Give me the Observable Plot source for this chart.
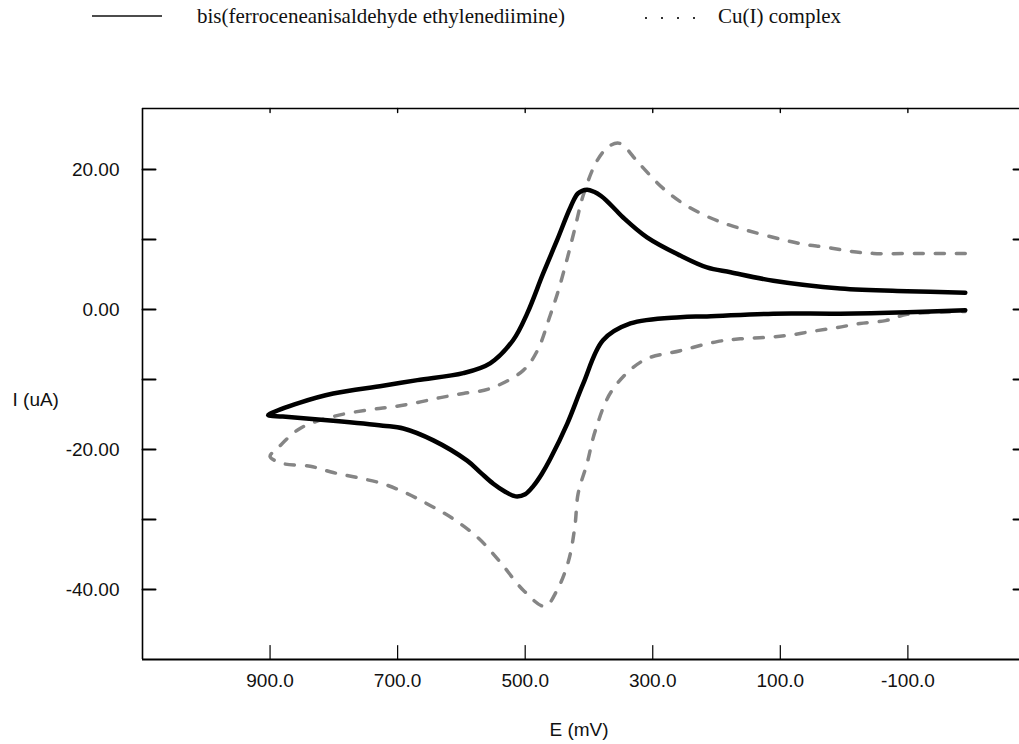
<!DOCTYPE html>
<html>
<head>
<meta charset="utf-8">
<script src="https://cdn.jsdelivr.net/npm/d3@7"></script>
<script src="https://cdn.jsdelivr.net/npm/@observablehq/plot@0.6"></script>
<style>
  body { margin: 0; background: #fff; }
  #legend { position: relative; width: 1019px; height: 40px; font-family: "Liberation Serif", "Times New Roman", serif; font-size: 21px; color: #111; }
  #legend .item { position: absolute; top: 4px; white-space: nowrap; }
  #legend svg { position: absolute; }
  #chart svg { display: block; }
</style>
</head>
<body>
<div id="legend"></div>
<div id="chart"></div>
<script>
// ---- Data (E in mV, I in uA), traced around each voltammogram loop ----
const seriesNames = ["bis(ferroceneanisaldehyde ethylenediimine)", "Cu(I) complex"];

const ligandE = [-190, -99, 6, 111, 178, 215, 257, 309, 346, 358, 371, 381, 392, 403, 417, 429, 450, 472, 497, 519,
  555, 597, 669, 723, 801, 853, 900, 903,
  880, 801, 723, 691, 644, 591, 570, 550, 532, 515, 500, 487, 474, 461, 434, 409, 378, 335, 257, 215, 111, 6, -99, -190];
const ligandI = [2.4, 2.6, 3.0, 4.1, 5.3, 6.0, 7.7, 10.3, 13.1, 14.2, 15.4, 16.2, 16.8, 17.1, 16.6, 14.6, 9.9, 5.1, -0.6, -4.4,
  -7.7, -9.1, -10.1, -10.9, -12.0, -13.3, -14.9, -15.1,
  -15.3, -15.9, -16.6, -17.0, -18.7, -21.6, -23.3, -24.9, -26.0, -26.7, -26.4, -25.2, -23.5, -21.4, -16.3, -10.6, -4.4, -2.0, -1.1, -1.0, -0.6, -0.6, -0.4, -0.1];

const complexE = [-190, -124, -46, -10, 29, 69, 178, 215, 252, 285, 323, 351, 367, 387, 409, 422, 434, 448, 461,
  481, 503, 555, 597, 633, 669, 707, 743, 801, 853, 889, 900,
  880, 837, 801, 764, 723, 685, 649, 613, 574, 539, 503, 469, 450, 432, 422, 417, 403, 390, 364, 315,
  257, 199, 163, 124, 87, 48, 11, -25, -65, -99, -190];
const complexI = [8.0, 8.0, 8.0, 8.3, 8.9, 9.4, 12.0, 13.3, 15.1, 17.4, 21.0, 23.7, 23.4, 21.3, 16.3, 11.6, 7.3, 2.7, -0.9,
  -5.9, -8.7, -11.3, -12.0, -12.6, -13.3, -13.9, -14.3, -15.3, -17.0, -19.9, -21.0,
  -22.0, -22.4, -23.3, -24.0, -24.9, -26.3, -28.0, -29.9, -32.6, -36.1, -40.1, -42.4, -40.1, -35.9, -30.9, -26.3, -22.0, -17.3, -11.6, -7.3,
  -5.9, -4.6, -4.2, -4.0, -3.7, -3.1, -2.6, -2.0, -1.6, -0.7, -0.3];

const xTickValues = [900, 700, 500, 300, 100, -100];
const yLabelValues = [20, 0, -20, -40];
const yTickValues = [20, 10, 0, -10, -20, -30, -40];
const xDomain = [1100, -275];
const yDomain = [-50, 28.7];

const ligand = ligandE.map((e, i) => ({E: e, I: ligandI[i]}));
const complex = complexE.map((e, i) => ({E: e, I: complexI[i]}));

// ---- Legend (above the SVG) ----
const legend = document.getElementById("legend");
legend.innerHTML = `
  <svg style="left:92px;top:10px" width="72" height="12"><line x1="0" y1="6" x2="70" y2="6" stroke="#111" stroke-width="1.6"/></svg>
  <div class="item" style="left:197px">${seriesNames[0]}</div>
  <svg style="left:643px;top:10px" width="60" height="12"><line x1="2" y1="8" x2="58" y2="8" stroke="#333" stroke-width="2" stroke-dasharray="2,14"/></svg>
  <div class="item" style="left:718px">${seriesNames[1]}</div>`;

// ---- Chart ----
const tickShape = {draw(ctx, l) { ctx.moveTo(0, 0); ctx.lineTo(0, -l); }};
const sans = "Liberation Sans, Arial, Helvetica, sans-serif";

const chart = Plot.plot({
  width: 1019,
  height: 704,
  marginLeft: 142,
  marginRight: 0,
  marginTop: 68,
  marginBottom: 85,
  style: {fontFamily: sans, fontSize: "19px", background: "#fff", color: "#000"},
  x: {domain: xDomain, axis: null},
  y: {domain: yDomain, axis: null},
  marks: [
    // frame (left, top, bottom)
    Plot.ruleX([xDomain[0]], {stroke: "#000", strokeWidth: 1.6}),
    Plot.ruleY([yDomain[1]], {stroke: "#000", strokeWidth: 1.4}),
    Plot.ruleY([yDomain[0]], {stroke: "#000", strokeWidth: 2.2}),
    // ticks
    Plot.vector(yTickValues, {y: d => d, frameAnchor: "left", anchor: "start", rotate: 90, length: 13, shape: tickShape, stroke: "#000", strokeWidth: 2}),
    Plot.vector(yTickValues, {y: d => d, frameAnchor: "right", anchor: "start", rotate: -90, length: 6, shape: tickShape, stroke: "#000", strokeWidth: 2}),
    Plot.vector(xTickValues, {x: d => d, frameAnchor: "bottom", anchor: "start", rotate: 0, length: 14, shape: tickShape, stroke: "#000", strokeWidth: 1.2}),
    Plot.vector(xTickValues, {x: d => d, frameAnchor: "top", anchor: "start", rotate: 180, length: 4, shape: tickShape, stroke: "#000", strokeWidth: 1.4}),
    // tick labels
    Plot.text(yLabelValues, {y: d => d, text: d => d.toFixed(2), frameAnchor: "left", textAnchor: "end", dx: -23, fill: "#111"}),
    Plot.text(xTickValues, {x: d => d, text: d => d.toFixed(1), frameAnchor: "bottom", dy: 27, fill: "#111"}),
    // axis titles
    Plot.text(["I (uA)"], {text: d => d, frameAnchor: "left", textAnchor: "start", dx: -130, dy: 16, fill: "#111"}),
    Plot.text(["E (mV)"], {text: d => d, frameAnchor: "bottom", dx: -2, dy: 76, fill: "#111"}),
    // curves
    Plot.line(complex, {x: "E", y: "I", curve: "catmull-rom", stroke: "#858585", strokeWidth: 3.5, strokeDasharray: "9,12"}),
    Plot.line(ligand, {x: "E", y: "I", curve: "catmull-rom", stroke: "#000", strokeWidth: 4.5})
  ]
});
document.getElementById("chart").appendChild(chart);
</script>
</body>
</html>
